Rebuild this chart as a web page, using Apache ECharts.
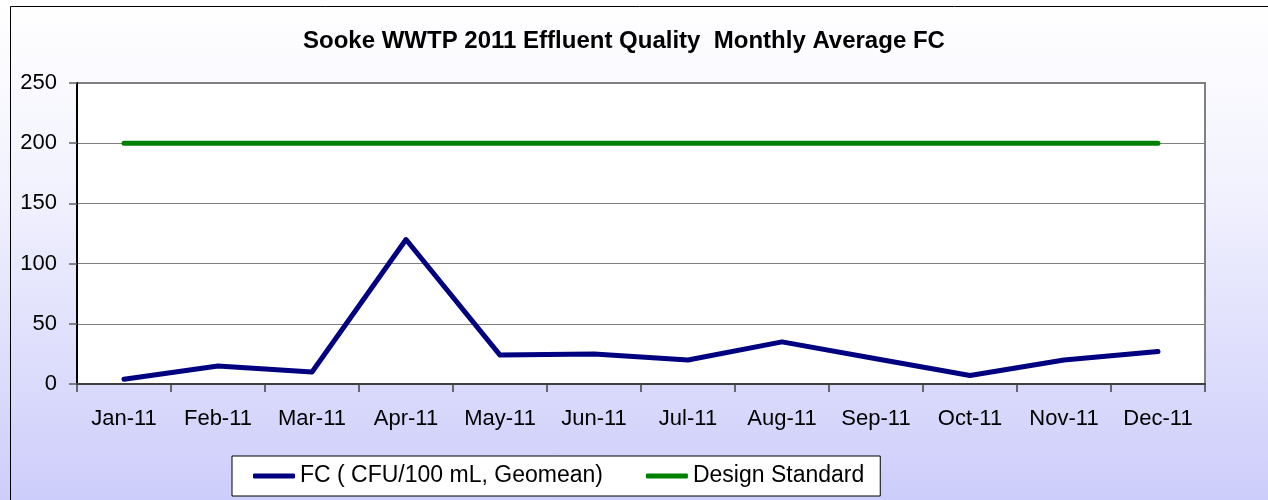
<!DOCTYPE html>
<html>
<head>
<meta charset="utf-8">
<script src="https://cdn.jsdelivr.net/npm/echarts@6/dist/echarts.min.js"></script>
<style>
  html, body { margin: 0; padding: 0; }
  #chart { width: 1268px; height: 500px; }
</style>
</head>
<body>
<div id="chart"></div>
<script>
// Monthly values
const months = ['Jan-11', 'Feb-11', 'Mar-11', 'Apr-11', 'May-11', 'Jun-11',
                'Jul-11', 'Aug-11', 'Sep-11', 'Oct-11', 'Nov-11', 'Dec-11'];
const fcGeomean = [4, 15, 10, 120, 24, 25, 20, 35, 21, 7, 20, 27];
const designStandard = [200, 200, 200, 200, 200, 200, 200, 200, 200, 200, 200, 200];

const chart = echarts.init(document.getElementById('chart'), undefined, { renderer: 'canvas' });

const font = 'Arial, "Liberation Sans", sans-serif';

chart.setOption({
  animation: false,
  backgroundColor: {
    type: 'linear', x: 0, y: 0, x2: 0, y2: 1,
    colorStops: [
      { offset: 0, color: '#ffffff' },
      { offset: 0.35, color: '#f3f3fe' },
      { offset: 1, color: '#cdcdfb' }
    ]
  },
  graphic: [{
    type: 'rect',
    shape: { x: 10.5, y: 6.5, width: 1270, height: 500 },
    style: { fill: 'none', stroke: '#000', lineWidth: 1 },
    silent: true
  }],
  title: {
    text: 'Sooke WWTP 2011 Effluent Quality  Monthly Average FC',
    left: 298,
    top: 24,
    textStyle: { fontFamily: font, fontSize: 24, fontWeight: 'bold', color: '#000' }
  },
  legend: {
    left: 232,
    top: 456,
    padding: [8, 16, 8, 21],
    itemGap: 43,
    itemWidth: 42,
    itemHeight: 5,
    icon: 'roundRect',
    backgroundColor: '#fff',
    borderColor: '#000',
    borderWidth: 1,
    borderRadius: 0,
    textStyle: { fontFamily: font, fontSize: 23, color: '#000', lineHeight: 24 },
    data: ['FC ( CFU/100 mL, Geomean)', 'Design Standard']
  },
  grid: {
    left: 77, right: 63, top: 83, bottom: 116,
    show: true,
    backgroundColor: '#fff',
    borderColor: '#808080',
    borderWidth: 2
  },
  xAxis: {
    type: 'category',
    data: months,
    boundaryGap: true,
    axisLine: { lineStyle: { color: '#404040', width: 2 } },
    axisTick: { show: true, length: 8, lineStyle: { color: '#404040', width: 1.5 } },
    axisLabel: { fontFamily: font, fontSize: 22, color: '#000', margin: 24 }
  },
  yAxis: {
    type: 'value',
    min: 0, max: 250, interval: 50,
    axisLine: { show: true, lineStyle: { color: '#000', width: 2 } },
    axisTick: { show: true, length: 8, lineStyle: { color: '#606060', width: 1.5 } },
    axisLabel: { fontFamily: font, fontSize: 22, color: '#000', margin: 20 },
    splitLine: { show: true, lineStyle: { color: '#7f7f7f', width: 1 } }
  },
  series: [
    {
      name: 'FC ( CFU/100 mL, Geomean)',
      type: 'line',
      data: fcGeomean,
      symbol: 'none',
      itemStyle: { color: '#000080' },
      lineStyle: { color: '#000080', width: 5, cap: 'round', join: 'round' }
    },
    {
      name: 'Design Standard',
      type: 'line',
      data: designStandard,
      symbol: 'none',
      itemStyle: { color: '#008000' },
      lineStyle: { color: '#008000', width: 5, cap: 'round' }
    }
  ]
});
</script>
</body>
</html>
